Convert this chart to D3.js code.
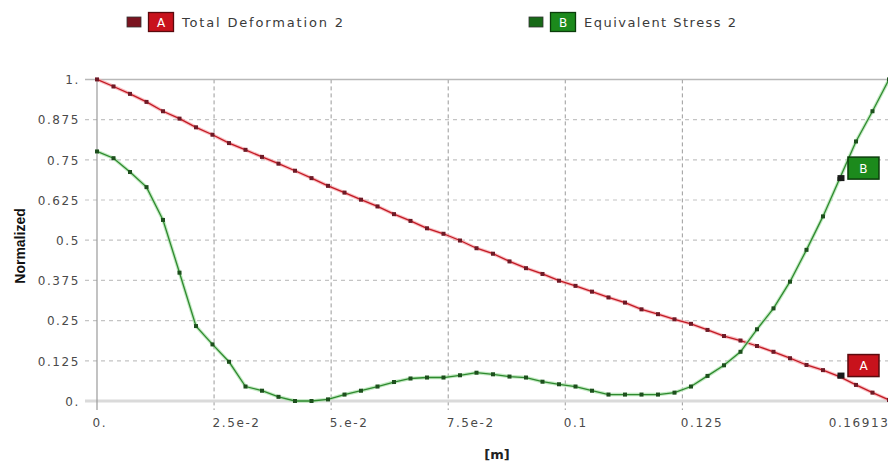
<!DOCTYPE html>
<html>
<head>
<meta charset="utf-8">
<script src="https://cdn.jsdelivr.net/npm/d3@7"></script>
<style>
html,body{margin:0;padding:0;background:#fff;}
svg{display:block;}
</style>
</head>
<body>
<svg id="chart" width="888" height="464"></svg>
<script>
// ---- data ----
const distance = [0, 0.003524, 0.007047, 0.010571, 0.014094, 0.017618, 0.021141, 0.024665, 0.028188,
  0.031712, 0.035235, 0.038759, 0.042282, 0.045806, 0.049329, 0.052853, 0.056376, 0.0599, 0.063423,
  0.066947, 0.07047, 0.073994, 0.077517, 0.081041, 0.084564, 0.088088, 0.091611, 0.095135, 0.098658,
  0.102182, 0.105705, 0.109229, 0.112752, 0.116276, 0.119799, 0.123323, 0.126846, 0.13037, 0.133893,
  0.137416, 0.14094, 0.144463, 0.147987, 0.15151, 0.155034, 0.158557, 0.162081, 0.165604, 0.16913];
const totalDeformation = [1.0, 0.978, 0.955, 0.930, 0.901, 0.878, 0.851, 0.828, 0.802, 0.781, 0.759,
  0.738, 0.716, 0.693, 0.669, 0.648, 0.626, 0.605, 0.581, 0.560, 0.537, 0.520, 0.499, 0.475, 0.458,
  0.434, 0.413, 0.395, 0.374, 0.358, 0.340, 0.322, 0.306, 0.285, 0.270, 0.254, 0.240, 0.221, 0.202,
  0.188, 0.171, 0.153, 0.133, 0.112, 0.096, 0.076, 0.050, 0.026, 0.003];
const equivalentStress = [0.776, 0.755, 0.712, 0.665, 0.563, 0.399, 0.233, 0.176, 0.122, 0.045, 0.032,
  0.013, 0.0, 0.0, 0.005, 0.020, 0.032, 0.045, 0.059, 0.070, 0.073, 0.073, 0.080, 0.088, 0.083,
  0.076, 0.073, 0.060, 0.052, 0.045, 0.032, 0.020, 0.020, 0.020, 0.020, 0.026, 0.045, 0.078, 0.111,
  0.153, 0.223, 0.288, 0.371, 0.470, 0.574, 0.690, 0.807, 0.901, 1.0];
const seriesNames = ["Total Deformation 2", "Equivalent Stress 2"];
const seriesTags = ["A", "B"];
const probeIndex = [45, 45];
const xTicks = [0, 0.025, 0.05, 0.075, 0.1, 0.125, 0.16913];
const xTickLabels = ["0.", "2.5e-2", "5.e-2", "7.5e-2", "0.1", "0.125", "0.16913"];
const yTicks = [0, 0.125, 0.25, 0.375, 0.5, 0.625, 0.75, 0.875, 1];
const yTickLabels = ["0.", "0.125", "0.25", "0.375", "0.5", "0.625", "0.75", "0.875", "1."];
const xTitle = "[m]";
const yTitle = "Normalized";

// ---- layout / style ----
const plotL = 97, plotR = 889, plotT = 79.4, plotB = 401;
const colors = [
  {line: "#c21a24", halo: "#f5a3a8", marker: "#6e1a26", box: "#c8121c", boxEdge: "#5a0a0e", small: "#7a1420"},
  {line: "#2f8a2f", halo: "#a8e0a8", marker: "#1d4f1d", box: "#1c8a1c", boxEdge: "#0b3d0b", small: "#186a18"}
];
const svg = d3.select("#chart");
const x = d3.scaleLinear().domain([0, 0.16913]).range([plotL, plotR]);
const y = d3.scaleLinear().domain([0, 1]).range([plotB, plotT]);
const font = "'DejaVu Sans', Verdana, sans-serif";

// horizontal grid
svg.append("g").selectAll("line").data(yTicks.filter(v => v > 0 && v < 1)).join("line")
  .attr("x1", 85).attr("x2", 888).attr("y1", d => y(d)).attr("y2", d => y(d))
  .attr("stroke", "#c4c4c4").attr("stroke-width", 1.2).attr("stroke-dasharray", "4,4");
// vertical grid
svg.append("g").selectAll("line").data(xTicks.filter(v => v > 0 && v < 0.16)).join("line")
  .attr("x1", d => x(d)).attr("x2", d => x(d)).attr("y1", plotT).attr("y2", 410)
  .attr("stroke", "#9a9a9a").attr("stroke-width", 1).attr("stroke-dasharray", "4,3");
// frame
svg.append("line").attr("x1", 85).attr("x2", 888).attr("y1", plotT).attr("y2", plotT)
  .attr("stroke", "#b8b8b8").attr("stroke-width", 1.5);
svg.append("line").attr("x1", 85).attr("x2", 888).attr("y1", plotB).attr("y2", plotB)
  .attr("stroke", "#dadada").attr("stroke-width", 3);
svg.append("line").attr("x1", plotL).attr("x2", plotL).attr("y1", plotT).attr("y2", 410)
  .attr("stroke", "#9a9a9a").attr("stroke-width", 1.2);

// axes (labels only, via d3 axes)
const xAxis = svg.append("g").attr("transform", `translate(0,${plotB})`)
  .call(d3.axisBottom(x).tickValues(xTicks).tickFormat((d, i) => xTickLabels[i]).tickSize(0));
xAxis.select(".domain").remove();
xAxis.selectAll("text")
  .attr("font-family", font).attr("font-size", 12).attr("fill", "#4a4a4a")
  .style("letter-spacing", "1.6px")
  .attr("y", 26).attr("dy", 0)
  .attr("text-anchor", (d, i) => i === xTicks.length - 1 ? "end" : "start")
  .attr("dx", (d, i) => i === 0 ? -5 : (i === xTicks.length - 1 ? 0 : -2));

const yAxis = svg.append("g").attr("transform", `translate(${plotL},0)`)
  .call(d3.axisLeft(y).tickValues(yTicks).tickFormat((d, i) => yTickLabels[i]).tickSize(0));
yAxis.select(".domain").remove();
yAxis.selectAll("text")
  .attr("font-family", font).attr("font-size", 12).attr("fill", "#4a4a4a")
  .style("letter-spacing", "1.6px")
  .attr("x", -17).attr("dy", "0.36em");

// axis titles
svg.append("text").attr("x", 497).attr("y", 459).attr("text-anchor", "middle")
  .attr("font-family", font).attr("font-weight", "bold").attr("font-size", 13).attr("fill", "#222")
  .text(xTitle);
svg.append("text").attr("transform", "translate(25,246) rotate(-90)").attr("text-anchor", "middle")
  .attr("font-family", "'Liberation Sans', Arial, sans-serif").attr("font-weight", "bold")
  .attr("font-size", 14).attr("fill", "#111").text(yTitle);

// series
const series = [totalDeformation, equivalentStress];
const line = d3.line().x((d, i) => x(distance[i])).y(d => y(d));
series.forEach((vals, s) => {
  const c = colors[s];
  const g = svg.append("g");
  g.append("path").attr("d", line(vals)).attr("fill", "none")
    .attr("stroke", c.halo).attr("stroke-width", 3.5).attr("opacity", 0.7);
  g.append("path").attr("d", line(vals)).attr("fill", "none")
    .attr("stroke", c.line).attr("stroke-width", 1.3);
  g.selectAll("rect").data(vals).join("rect")
    .attr("x", (d, i) => x(distance[i]) - 2).attr("y", d => y(d) - 2)
    .attr("width", 4).attr("height", 4).attr("fill", c.marker);
});

// probe labels
series.forEach((vals, s) => {
  const c = colors[s];
  const i = probeIndex[s];
  const px = x(distance[i]), py = y(vals[i]);
  svg.append("rect").attr("x", px - 2).attr("y", py - 4).attr("width", 7).attr("height", 6)
    .attr("fill", "#1a1a1a");
  svg.append("rect").attr("x", px + 8.5).attr("y", py - 22).attr("width", 31).attr("height", 22)
    .attr("fill", c.box).attr("stroke", c.boxEdge).attr("stroke-width", 1.5);
  svg.append("text").attr("x", px + 24).attr("y", py - 6.5).attr("text-anchor", "middle")
    .attr("font-family", font).attr("font-size", 12).attr("fill", "#fff").text(seriesTags[s]);
});

// legend
const legendX = [127, 529];
seriesNames.forEach((name, s) => {
  const c = colors[s];
  const lx = legendX[s];
  const g = svg.append("g");
  g.append("rect").attr("x", lx).attr("y", 17).attr("width", 14).attr("height", 10)
    .attr("fill", c.small).attr("stroke", "#333").attr("stroke-width", 0.8);
  g.append("rect").attr("x", lx + 21.5).attr("y", 12.5).attr("width", 25).attr("height", 19)
    .attr("fill", c.box).attr("stroke", c.boxEdge).attr("stroke-width", 1.3);
  g.append("text").attr("x", lx + 34).attr("y", 27).attr("text-anchor", "middle")
    .attr("font-family", font).attr("font-size", 12).attr("fill", "#fff").text(seriesTags[s]);
  g.append("text").attr("x", lx + 55).attr("y", 27)
    .attr("font-family", font).attr("font-size", 13).attr("fill", "#3a3a3a")
    .attr("textLength", s === 0 ? 161 : 152).attr("lengthAdjust", "spacing")
    .text(name);
});
</script>
</body>
</html>
